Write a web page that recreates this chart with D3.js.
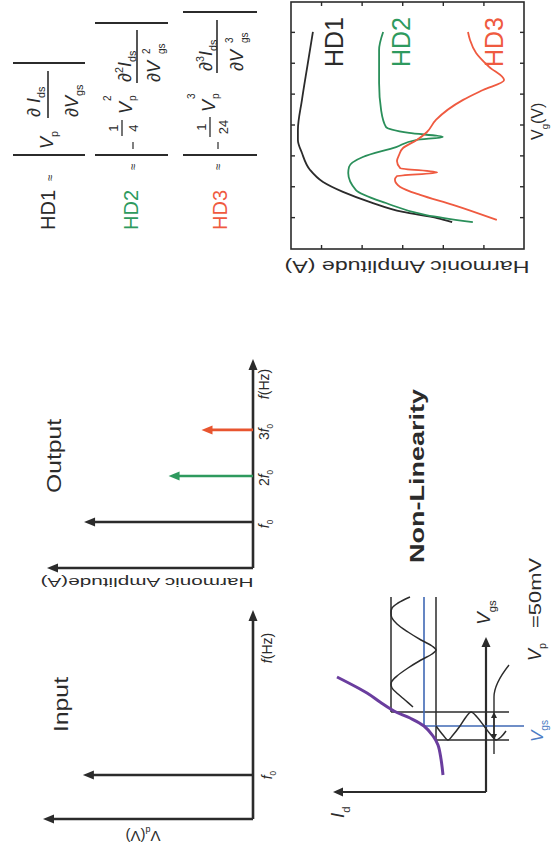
<!DOCTYPE html>
<html>
<head>
<meta charset="utf-8">
<script src="https://cdn.jsdelivr.net/npm/d3@7"></script>
<style>
  body { margin: 0; background: #fff; }
  svg { display: block; font-family: "Liberation Sans", Arial, Helvetica, sans-serif; }
</style>
</head>
<body>
<svg id="fig" width="552" height="858"></svg>
<script>
// ---------- data ----------
// Harmonic amplitude vs gate voltage (log10 of amplitude in A)
const hd1Vg  = [-0.313,-0.300,-0.280,-0.248,-0.215,-0.183,-0.144,-0.089,-0.047,-0.015,0.083,0.190,0.303];
const hd1Log = [-8.23,-7.86,-7.02,-6.21,-5.54,-5.05,-4.73,-4.53,-4.43,-4.43,-4.53,-4.66,-4.80];
const hd2Vg  = [-0.313,-0.290,-0.251,-0.209,-0.154,-0.134,-0.102,-0.070,-0.047,-0.037,-0.024,-0.005,0.050,0.138,0.245,0.303];
const hd2Log = [-8.74,-7.59,-6.60,-5.86,-5.67,-5.69,-6.03,-6.85,-7.34,-8.00,-7.17,-6.60,-6.48,-6.43,-6.43,-6.53];
const hd3Vg  = [-0.306,-0.257,-0.225,-0.199,-0.176,-0.164,-0.152,-0.138,-0.115,-0.096,-0.073,-0.047,-0.021,0.018,0.083,0.115,0.147,0.190,0.235,0.277,0.303];
const hd3Log = [-9.33,-8.25,-7.44,-6.95,-6.82,-6.87,-7.86,-6.95,-6.87,-6.92,-7.02,-7.36,-7.61,-7.83,-8.50,-8.99,-9.51,-9.14,-8.82,-8.67,-8.62];
const hdNames = ["HD1", "HD2", "HD3"];
const vgTicks  = [-0.3,-0.2,-0.1,0,0.1,0.2,0.3];
const ampTicks = [-9,-8,-7,-6,-5];

// Input / output spectra (harmonic order, relative amplitude)
const inputOrders  = [1];
const inputAmps    = [0.81];
const outputOrders = [1, 2, 3];
const outputAmps   = [0.82, 0.41, 0.25];
const orderLabels  = ["", "2", "3"];

// Transfer curve Id(Vgs) and the signals around the bias point
const transferVgs = [0.17,0.33,0.47,0.56,0.66,0.74,0.81,0.90,0.99,1.15];
const transferId  = [0.43,0.45,0.48,0.53,0.62,0.76,0.92,1.06,1.19,1.49];
const biasVgs = 0.66, vpAmp = 0.14;
const idLow = 0.50, idBias = 0.62, idHigh = 0.95;
const inWaveVgs = [0.66,0.57,0.52,0.57,0.66,0.75,0.80,0.75,0.66,0.57,0.52,0.55,0.61];
const inWaveT   = [0.50,0.43,0.38,0.33,0.26,0.20,0.15,0.09,0.02,-0.05,-0.10,-0.15,-0.20];
const outWaveT  = [1.95,1.89,1.84,1.79,1.74,1.68,1.60,1.52,1.46,1.42,1.38,1.32,1.24,1.16,1.11,1.08,1.04,0.98,0.92,0.85];
const outWaveId = [0.76,0.88,0.94,0.95,0.94,0.89,0.78,0.65,0.54,0.50,0.54,0.65,0.78,0.89,0.94,0.95,0.94,0.88,0.81,0.73];

// ---------- styles ----------
const INK = "#2b2b2b", GREEN = "#2e9a5e", RED = "#ef5a40", BLUE = "#3f68b4", PURPLE = "#6a3d9e";

const svg = d3.select("#fig");
// the whole figure is laid out in landscape and turned a quarter turn
const root = svg.append("g").attr("transform", "translate(0,858) rotate(-90)");

function rich(g, x, y, size, runs, fill, anchor) {
  const t = g.append("text").attr("x", x).attr("y", y).attr("font-size", size)
    .attr("fill", fill || INK).attr("text-anchor", anchor || "start");
  let off = 0;
  runs.forEach(r => {
    const target = r.sub ? size * 0.3 : r.sup ? -size * 0.45 : 0;
    const ts = t.append("tspan").attr("dy", target - off).text(r.t);
    if (r.sub || r.sup) ts.attr("font-size", size * 0.6);
    if (r.it) ts.attr("font-style", "italic");
    off = target;
  });
  return t;
}

// plain text stretched to a given run length
function fitText(g, x, y, size, str, len, opts) {
  opts = opts || {};
  const t = g.append("text").attr("x", x).attr("y", y).attr("font-size", size)
    .attr("fill", opts.fill || INK).attr("text-anchor", opts.anchor || "start")
    .attr("textLength", len).attr("lengthAdjust", "spacingAndGlyphs").text(str);
  if (opts.bold) t.attr("font-weight", "bold");
  if (opts.transform) t.attr("transform", opts.transform);
  return t;
}

function arrow(g, x0, y0, x1, y1, color, w, L, H) {
  w = w || 2.4; L = L || 11; H = H || 4.5;
  const dx = x1 - x0, dy = y1 - y0, len = Math.hypot(dx, dy), ux = dx / len, uy = dy / len;
  const bx = x1 - ux * L, by = y1 - uy * L;
  g.append("line").attr("x1", x0).attr("y1", y0).attr("x2", bx + ux).attr("y2", by + uy)
    .attr("stroke", color).attr("stroke-width", w);
  g.append("path").attr("d", `M${x1},${y1}L${bx - uy * H},${by + ux * H}L${bx + uy * H},${by - ux * H}Z`)
    .attr("fill", color);
}

function seg(g, x1, y1, x2, y2, color, w) {
  g.append("line").attr("x1", x1).attr("y1", y1).attr("x2", x2).attr("y2", y2)
    .attr("stroke", color || INK).attr("stroke-width", w || 1.6);
}

// ---------- input spectrum ----------
{
  const g = root.append("g");
  const fx = d3.scaleLinear().domain([0, 4.75]).range([39, 248]);
  const ay = d3.scaleLinear().domain([0, 1]).range([253, 43]);
  arrow(g, fx(0), ay(0), fx(4.75), ay(0), INK, 2.6);
  arrow(g, fx(0), ay(0), fx(0), ay(1), INK, 2.6);
  inputOrders.forEach((k, i) => arrow(g, fx(k), ay(0), fx(k), ay(inputAmps[i]), INK, 2.6));
  rich(g, fx(1), 272, 14, [{t: "f", it: true}, {t: "0", sub: true}], INK, "middle");
  rich(g, 210, 272, 14, [{t: "f", it: true}, {t: "(Hz)"}], INK, "middle");
  fitText(g, 126, 68, 20, "Input", 55);
  const yl = rich(g, 0, 0, 15, [{t: "V"}, {t: "d", sub: true}, {t: "(V)"}], INK, "middle");
  yl.attr("transform", "translate(27,143) rotate(-90)");
}

// ---------- output spectrum ----------
{
  const g = root.append("g");
  const fx = d3.scaleLinear().domain([0, 4.54]).range([290, 499]);
  const ay = d3.scaleLinear().domain([0, 1]).range([253, 47]);
  const cols = [INK, GREEN, "#e8552f"];
  arrow(g, fx(0), ay(0), fx(4.54), ay(0), INK, 2.6);
  arrow(g, fx(0), ay(0), fx(0), ay(1), INK, 2.6);
  outputOrders.forEach((k, i) => arrow(g, fx(k), ay(0), fx(k), ay(outputAmps[i]), cols[i], 2.6));
  outputOrders.forEach((k, i) => {
    const runs = [];
    if (orderLabels[i]) runs.push({t: orderLabels[i]});
    runs.push({t: "f", it: true}, {t: "0", sub: true});
    rich(g, fx(k) - 2, 269, 14, runs, INK, "middle");
  });
  rich(g, 474, 269, 14, [{t: "f", it: true}, {t: "(Hz)"}], INK, "middle");
  fitText(g, 365, 61, 20, "Output", 74);
  fitText(g, 0, 0, 13, "Harmonic Amplitude(A)", 213,
    {anchor: "middle", transform: "translate(280,147) rotate(-90)"});
}

// ---------- formulas ----------
{
  const g = root.append("g");
  // HD1
  g.append("text").attr("x", 628).attr("y", 55).attr("font-size", 20).attr("fill", INK).text("HD1");
  g.append("text").attr("x", 677).attr("y", 54).attr("font-size", 12).attr("fill", INK).text("≈");
  seg(g, 703, 13, 703, 85, INK, 2);
  rich(g, 709, 53, 18, [{t: "V", it: true}, {t: "p", sub: true}]);
  rich(g, 741, 40, 18, [{t: "∂ "}, {t: "I", it: true}, {t: "ds", sub: true}]);
  seg(g, 740, 48, 787, 48, INK, 1.6);
  rich(g, 741, 78, 18, [{t: "∂"}, {t: "V", it: true}, {t: "gs", sub: true}]);
  seg(g, 795, 13, 795, 85, INK, 2);

  // HD2
  g.append("text").attr("x", 628).attr("y", 138).attr("font-size", 20).attr("fill", GREEN).text("HD2");
  g.append("text").attr("x", 688).attr("y", 137).attr("font-size", 12).attr("fill", INK).text("≈");
  seg(g, 703, 95, 703, 168, INK, 2);
  seg(g, 709, 133, 716, 133, INK, 1.2);
  g.append("text").attr("x", 730).attr("y", 118).attr("font-size", 13).attr("text-anchor", "middle").attr("fill", INK).text("1");
  seg(g, 722, 122, 738, 122, INK, 1.3);
  g.append("text").attr("x", 730).attr("y", 138).attr("font-size", 13).attr("text-anchor", "middle").attr("fill", INK).text("4");
  rich(g, 744, 132, 18, [{t: "V", it: true}]);
  g.append("text").attr("x", 757).attr("y", 111).attr("font-size", 10).attr("fill", INK).text("2");
  g.append("text").attr("x", 757).attr("y", 136).attr("font-size", 10).attr("fill", INK).text("p");
  rich(g, 776, 131, 18, [{t: "∂"}, {t: "2", sup: true}, {t: "I", it: true}, {t: "ds", sub: true}]);
  seg(g, 775, 137, 828, 137, INK, 1.6);
  rich(g, 776, 160, 18, [{t: "∂"}, {t: "V", it: true}]);
  g.append("text").attr("x", 804).attr("y", 150).attr("font-size", 10).attr("fill", INK).text("2");
  g.append("text").attr("x", 804).attr("y", 165).attr("font-size", 10).attr("fill", INK).text("gs");
  seg(g, 835, 95, 835, 168, INK, 2);

  // HD3
  g.append("text").attr("x", 628).attr("y", 227).attr("font-size", 20).attr("fill", RED).text("HD3");
  g.append("text").attr("x", 688).attr("y", 222).attr("font-size", 12).attr("fill", INK).text("≈");
  seg(g, 703, 183, 703, 257, INK, 2);
  seg(g, 709, 218, 716, 218, INK, 1.2);
  g.append("text").attr("x", 731).attr("y", 206).attr("font-size", 13).attr("text-anchor", "middle").attr("fill", INK).text("1");
  seg(g, 721, 210, 741, 210, INK, 1.3);
  g.append("text").attr("x", 731).attr("y", 228).attr("font-size", 13).attr("text-anchor", "middle").attr("fill", INK).text("24");
  rich(g, 746, 215, 18, [{t: "V", it: true}]);
  g.append("text").attr("x", 759).attr("y", 195).attr("font-size", 10).attr("fill", INK).text("3");
  g.append("text").attr("x", 759).attr("y", 219).attr("font-size", 10).attr("fill", INK).text("p");
  rich(g, 787, 212, 18, [{t: "∂"}, {t: "3", sup: true}, {t: "I", it: true}, {t: "ds", sub: true}]);
  seg(g, 785, 217, 838, 217, INK, 1.6);
  rich(g, 787, 243, 18, [{t: "∂"}, {t: "V", it: true}]);
  g.append("text").attr("x", 815).attr("y", 233).attr("font-size", 10).attr("fill", INK).text("3");
  g.append("text").attr("x", 815).attr("y", 248).attr("font-size", 10).attr("fill", INK).text("gs");
  seg(g, 846, 183, 846, 257, INK, 2);
}

// ---------- harmonic amplitude vs Vg ----------
{
  const g = root.append("g");
  const hx = d3.scaleLinear().domain([-0.4, 0.4]).range([609, 856]);
  const hy = d3.scaleLinear().domain([-10, -4.26]).range([524, 291]);
  const [x0, x1] = hx.range(), [y0, y1] = hy.range();

  const tick = sel => sel.call(s => s.select(".domain").remove())
    .call(s => s.selectAll(".tick line").attr("stroke", INK).attr("stroke-width", 1.4));
  g.append("g").attr("transform", `translate(0,${y1})`)
    .call(d3.axisBottom(hx).tickValues(vgTicks).tickSize(4).tickFormat("")).call(tick);
  g.append("g").attr("transform", `translate(0,${y0})`)
    .call(d3.axisTop(hx).tickValues(vgTicks).tickSize(4).tickFormat("")).call(tick);
  g.append("g").attr("transform", `translate(${x0},0)`)
    .call(d3.axisRight(hy).tickValues(ampTicks).tickSize(4).tickFormat("")).call(tick);
  g.append("g").attr("transform", `translate(${x1},0)`)
    .call(d3.axisLeft(hy).tickValues(ampTicks).tickSize(4).tickFormat("")).call(tick);
  g.append("rect").attr("x", x0).attr("y", y1).attr("width", x1 - x0).attr("height", y0 - y1)
    .attr("fill", "none").attr("stroke", INK).attr("stroke-width", 1.6);

  const line = d3.line().x(d => hx(d[0])).y(d => hy(d[1])).curve(d3.curveMonotoneX);
  const series = [
    {vg: hd1Vg, a: hd1Log, c: INK},
    {vg: hd2Vg, a: hd2Log, c: "#2a8f5a"},
    {vg: hd3Vg, a: hd3Log, c: RED}
  ];
  series.forEach(s => {
    g.append("path").datum(s.vg.map((v, i) => [v, s.a[i]])).attr("d", line)
      .attr("fill", "none").attr("stroke", s.c).attr("stroke-width", 1.8);
  });
  const labelV = [343, 410, 503];
  const labelC = [INK, GREEN, RED];
  hdNames.forEach((n, i) => {
    g.append("text").attr("x", 791).attr("y", labelV[i]).attr("font-size", 25)
      .attr("fill", labelC[i]).text(n);
  });
  rich(g, 718, 543, 16, [{t: "V"}, {t: "g", sub: true}, {t: "(V)"}]);
  fitText(g, 0, 0, 17, "Harmonic Amplitude (A)", 245,
    {anchor: "middle", transform: "translate(597,407) rotate(-90)"});
}

// ---------- non-linearity sketch ----------
{
  const g = root.append("g");
  const nx = d3.scaleLinear().domain([0, 1.55]).range([66, 221]);
  const ny = d3.scaleLinear().domain([0, 1.53]).range([486, 333]);
  const lineXY = d3.line().x(d => nx(d[0])).y(d => ny(d[1]));

  arrow(g, nx(0), ny(0), nx(1.55), ny(0), INK, 2.2, 10, 4.5);
  arrow(g, nx(0), ny(0), nx(0), ny(1.53), INK, 2.2, 10, 4.5);

  // projection lines from the curve
  const vLo = biasVgs - vpAmp, vHi = biasVgs + vpAmp, tEnd = 1.95;
  seg(g, nx(vHi), ny(idHigh), nx(vHi), ny(-0.23), INK, 1.5);
  seg(g, nx(vLo), ny(idLow), nx(vLo), ny(-0.23), INK, 1.5);
  seg(g, nx(vHi), ny(idHigh), nx(tEnd), ny(idHigh), INK, 1.5);
  seg(g, nx(vLo), ny(idLow), nx(tEnd), ny(idLow), INK, 1.5);
  seg(g, nx(biasVgs), ny(idBias), nx(biasVgs), ny(-0.38), BLUE, 1.6);
  seg(g, nx(biasVgs), ny(idBias), nx(tEnd), ny(idBias), BLUE, 1.6);

  // input and output waveforms
  g.append("path").datum(inWaveVgs.map((v, i) => [v, inWaveT[i]]))
    .attr("d", lineXY.curve(d3.curveCatmullRom)).attr("fill", "none").attr("stroke", INK).attr("stroke-width", 1.5);
  g.append("path").datum(outWaveT.map((t, i) => [t, outWaveId[i]]))
    .attr("d", lineXY.curve(d3.curveCatmullRom)).attr("fill", "none").attr("stroke", INK).attr("stroke-width", 1.5);

  // transfer curve
  g.append("path").datum(transferVgs.map((v, i) => [v, transferId[i]]))
    .attr("d", lineXY.curve(d3.curveCatmullRom)).attr("fill", "none").attr("stroke", PURPLE).attr("stroke-width", 3);

  // amplitude marker and its leader
  const mY = -0.08;
  seg(g, nx(0.38), ny(mY), nx(0.82), ny(mY), INK, 1.4);
  arrow(g, nx(0.66), ny(mY), nx(vHi), ny(mY), INK, 1.4, 6, 3);
  arrow(g, nx(0.66), ny(mY), nx(vLo), ny(mY), INK, 1.4, 6, 3);
  g.append("path")
    .attr("d", `M${nx(1.27)},${ny(-0.23)}Q${nx(1.08)},${ny(mY)} ${nx(0.95)},${ny(mY)}L${nx(0.82)},${ny(mY)}`)
    .attr("fill", "none").attr("stroke", INK).attr("stroke-width", 1.4);

  rich(g, 40, 344, 19, [{t: "I", it: true}, {t: "d", sub: true}]);
  rich(g, 233, 490, 19, [{t: "V", it: true}, {t: "gs", sub: true}]);
  rich(g, 197, 541, 18, [{t: "V", it: true}, {t: "p", sub: true}]);
  fitText(g, 230, 541, 17, "=50mV", 70);
  rich(g, 116, 543, 17, [{t: "V", it: true}, {t: "gs", sub: true}], "#4d7cc4");
  fitText(g, 295, 424, 21, "Non-Linearity", 174, {bold: true});
}
</script>
</body>
</html>
